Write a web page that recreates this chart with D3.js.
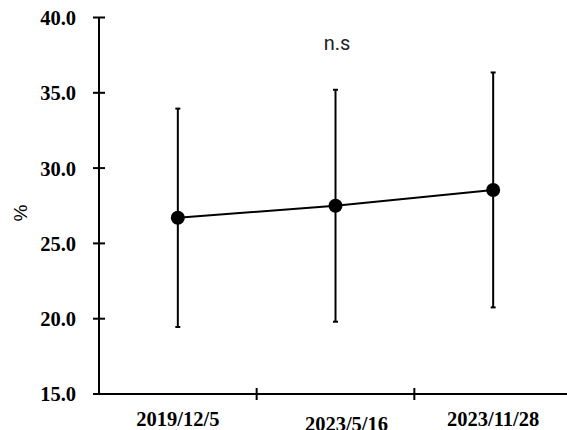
<!DOCTYPE html>
<html><head><meta charset="utf-8">
<script src="https://cdn.jsdelivr.net/npm/d3@7"></script>
<style>html,body{margin:0;padding:0;background:#fff;overflow:hidden}</style>
</head><body>
<svg id="c" width="567" height="430"></svg>
<script>
const categories = ["2019/12/5", "2023/5/16", "2023/11/28"];
const means = [26.7, 27.5, 28.55];
const sds = [7.25, 7.7, 7.8];
const yTicks = [15, 20, 25, 30, 35, 40];
const annotation = "n.s";
const yLabel = "%";

// label offsets (style only)
const labelDx = [0, 11, 0];
const labelDy = [0, 5, 0];

const svg = d3.select("#c");
const pLeft = 99, pRight = 572, pTop = 17.5, pBottom = 394;
const x = d3.scaleBand().domain(categories).range([pLeft, pRight]);
const y = d3.scaleLinear().domain([15, 40]).range([pBottom, pTop]);
const serif = "Liberation Serif, Times New Roman, Times, DejaVu Serif, serif";

// Y axis
const yAxis = svg.append("g").attr("transform", `translate(${pLeft},0)`)
  .call(d3.axisLeft(y).tickValues(yTicks).tickFormat(d3.format(".1f")).tickSize(0).tickPadding(23));
yAxis.attr("font-family", null);
yAxis.select(".domain").remove();
yAxis.selectAll("text").style("font-family", serif).style("font-weight", "bold")
  .style("font-size", "20.5px").attr("fill", "#000").attr("dy", "0.34em");
svg.append("line").attr("x1", pLeft).attr("x2", pLeft).attr("y1", y(40)).attr("y2", y(15))
  .attr("stroke", "#000").attr("stroke-width", 2);
svg.selectAll(".yt").data(yTicks).enter().append("line")
  .attr("x1", pLeft - 6).attr("x2", pLeft + 6).attr("y1", d => y(d)).attr("y2", d => y(d))
  .attr("stroke", "#000").attr("stroke-width", 2);

// X axis
svg.append("line").attr("x1", pLeft - 6).attr("x2", 567).attr("y1", pBottom).attr("y2", pBottom)
  .attr("stroke", "#000").attr("stroke-width", 2);
const bounds = categories.map(c => x(c)).concat([x(categories[categories.length-1]) + x.bandwidth()]);
svg.selectAll(".xt").data(bounds.slice(1)).enter().append("line")
  .attr("x1", d => d).attr("x2", d => d).attr("y1", pBottom - 6).attr("y2", pBottom + 6)
  .attr("stroke", "#000").attr("stroke-width", 2);
svg.selectAll(".xl").data(categories).enter().append("text")
  .attr("x", (d, i) => x(d) + x.bandwidth() / 2 + labelDx[i])
  .attr("y", (d, i) => 425.5 + labelDy[i])
  .attr("text-anchor", "middle").style("font-family", serif).style("font-weight", "bold")
  .style("font-size", "20.5px").attr("fill", "#000").text(d => d);

// Y label
svg.append("text").attr("transform", "translate(27,213) rotate(-90)")
  .attr("text-anchor", "middle").style("font-family", "Liberation Sans, Arial, sans-serif")
  .style("font-size", "19px").attr("fill", "#000").text(yLabel);

// Annotation
svg.append("text").attr("x", 337).attr("y", 50).attr("text-anchor", "middle")
  .style("font-family", "Roboto, Noto Sans, sans-serif").style("font-size", "20px")
  .attr("fill", "#222").text(annotation);

const cx = (d, i) => x(categories[i]) + x.bandwidth() / 2;

// Error bars
const eb = svg.append("g");
means.forEach((m, i) => {
  const xc = cx(m, i);
  eb.append("line").attr("x1", xc).attr("x2", xc).attr("y1", y(m - sds[i])).attr("y2", y(m + sds[i]))
    .attr("stroke", "#000").attr("stroke-width", 2);
  [m - sds[i], m + sds[i]].forEach(v => {
    eb.append("line").attr("x1", xc - 2.5).attr("x2", xc + 2.5).attr("y1", y(v)).attr("y2", y(v))
      .attr("stroke", "#000").attr("stroke-width", 2);
  });
});

// Line
const line = d3.line().x((d, i) => cx(d, i)).y(d => y(d));
svg.append("path").datum(means).attr("d", line).attr("fill", "none")
  .attr("stroke", "#000").attr("stroke-width", 2);

// Markers
svg.selectAll(".pt").data(means).enter().append("circle")
  .attr("cx", (d, i) => cx(d, i)).attr("cy", d => y(d)).attr("r", 7).attr("fill", "#000");
</script>
</body></html>
